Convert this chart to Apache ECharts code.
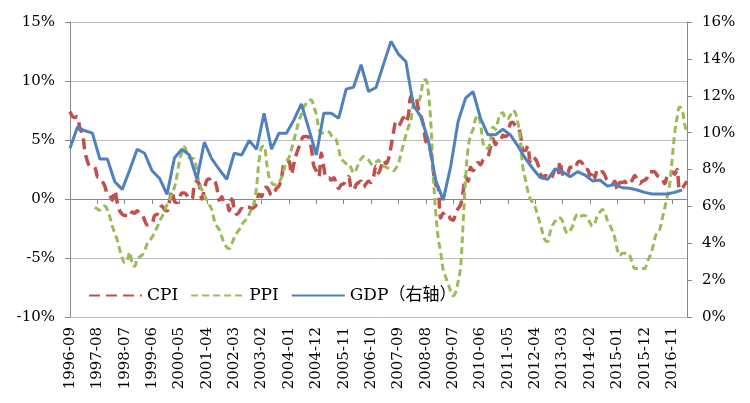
<!DOCTYPE html>
<html><head><meta charset="utf-8">
<script src="https://cdn.jsdelivr.net/npm/echarts@6/dist/echarts.min.js"></script>
<style>html,body{margin:0;padding:0;background:#fff}#c{width:750px;height:403px}</style>
</head><body><div id="c"></div>
<script>
// Monthly categories 1996-09 .. 2017-05
const firstYear = 1996, firstMonth = 9, monthCount = 249;
const categories = [];
for (let i = 0; i < monthCount; i++) {
  const m = firstMonth - 1 + i;
  const y = firstYear + Math.floor(m / 12);
  const mo = (m % 12) + 1;
  categories.push(y + '-' + (mo < 10 ? '0' + mo : mo));
}

// CPI yoy %, monthly from 1996-09
const cpi = [
  7.4, 7.0, 6.9, 7.0,
  5.9, 5.6, 4.0, 3.2, 2.8, 2.8, 2.7, 1.9, 1.8, 1.5, 1.1, 0.4,
  0.3, -0.1, 0.7, -0.3, -1.0, -1.3, -1.4, -1.4, -1.5, -1.1, -1.2, -1.0,
  -1.2, -1.3, -1.8, -2.2, -2.2, -2.1, -1.4, -1.3, -0.8, -0.6, -0.9, -1.0,
  -0.2, 0.7, -0.2, -0.3, 0.1, 0.5, 0.5, 0.3, 0.0, 0.0, 1.3, 1.5,
  1.2, 0.0, 0.8, 1.6, 1.7, 1.4, 1.5, 1.0, -0.1, 0.2, -0.3, -0.3,
  -1.0, 0.0, -0.8, -1.3, -1.1, -0.8, -0.9, -0.7, -0.7, -0.8, -0.7, -0.4,
  0.4, 0.2, 0.9, 1.0, 0.7, 0.3, 0.5, 0.9, 1.1, 1.8, 3.0, 3.2,
  3.2, 2.1, 3.0, 3.8, 4.4, 5.0, 5.3, 5.3, 5.2, 4.3, 2.8, 2.4,
  1.9, 3.9, 2.7, 1.8, 1.8, 1.6, 1.8, 1.3, 0.9, 1.2, 1.3, 1.6,
  1.9, 0.9, 0.8, 1.2, 1.4, 1.5, 1.0, 1.3, 1.5, 1.4, 1.9, 2.8,
  2.2, 2.7, 3.3, 3.0, 3.4, 4.4, 5.6, 6.5, 6.2, 6.5, 6.9, 6.5,
  7.1, 8.7, 8.3, 8.5, 7.7, 7.1, 6.3, 4.9, 4.6, 4.0, 2.4, 1.2,
  1.0, -1.6, -1.2, -1.5, -1.4, -1.7, -1.8, -1.2, -0.8, -0.5, 0.6, 1.9,
  1.5, 2.7, 2.4, 2.8, 3.1, 2.9, 3.3, 3.5, 3.6, 4.4, 5.1, 4.6,
  4.9, 4.9, 5.4, 5.3, 5.5, 6.4, 6.5, 6.2, 6.1, 5.5, 4.2, 4.1,
  4.5, 3.2, 3.6, 3.4, 3.0, 2.2, 1.8, 2.0, 1.9, 1.7, 2.0, 2.5,
  2.0, 3.2, 2.1, 2.4, 2.1, 2.7, 2.7, 2.6, 3.1, 3.2, 3.0, 2.5,
  2.5, 2.0, 2.4, 1.8, 2.5, 2.3, 2.3, 2.0, 1.6, 1.6, 1.4, 1.5,
  0.8, 1.4, 1.4, 1.5, 1.2, 1.4, 1.6, 2.0, 1.6, 1.3, 1.5, 1.6,
  1.8, 2.3, 2.3, 2.3, 2.0, 1.9, 1.8, 1.3, 1.9, 2.1, 2.3, 2.1,
  2.5, 0.8, 0.9, 1.2, 1.5
];

// PPI yoy %, monthly from 1997-07
const ppiFirst = '1997-07';
const ppi = [
  -0.7, -0.85, -0.95, -0.8, -0.6, -0.9,
  -1.5, -2.3, -2.9, -3.5, -4.3, -5.0, -5.4, -5.2, -4.5, -5.5, -5.7, -5.1,
  -4.9, -4.75, -4.4, -3.8, -3.5, -3.25, -2.8, -2.4, -1.9, -1.5, -1.0, -0.5,
  -0.1, 0.5, 1.0, 2.0, 3.2, 4.0, 4.4, 3.9, 3.5, 3.45, 3.4, 2.3,
  1.3, 0.8, 0.3, -0.1, -0.5, -0.9, -1.8, -2.3, -2.6, -3.2, -3.75, -4.1,
  -4.2, -3.8, -3.3, -2.9, -2.6, -2.2, -1.9, -1.7, -1.3, -0.8, -0.3, 1.0,
  3.3, 4.4, 4.5, 3.1, 1.9, 1.4, 1.2, 1.2, 1.4, 1.8, 2.5, 3.2,
  3.5, 4.2, 5.0, 5.8, 6.6, 7.2, 7.8, 8.1, 8.4, 8.4, 7.8, 7.2,
  6.0, 5.6, 5.6, 5.7, 5.7, 5.4, 5.2, 5.0, 4.2, 3.4, 3.2, 3.0,
  3.0, 2.6, 2.2, 2.5, 3.0, 3.4, 3.6, 3.5, 3.3, 3.0, 2.9, 3.1,
  3.3, 3.0, 2.8, 2.7, 2.6, 2.5, 2.4, 2.6, 3.0, 3.8, 4.6, 5.4,
  6.1, 6.6, 8.0, 8.1, 8.2, 8.8, 10.0, 10.1, 9.1, 6.6, 2.0, -1.1,
  -3.3, -4.5, -6.0, -6.6, -7.2, -7.8, -8.2, -7.9, -7.0, -5.8, -2.1, 1.7,
  4.3, 5.4, 5.9, 6.8, 7.1, 6.4, 4.8, 4.3, 4.3, 5.0, 6.1, 5.9,
  6.6, 7.2, 7.3, 6.8, 6.8, 7.1, 7.5, 7.3, 6.5, 5.0, 2.7, 1.7,
  0.7, 0.0, -0.3, -0.7, -1.4, -2.1, -2.9, -3.5, -3.6, -2.8, -2.2, -1.9,
  -1.6, -1.6, -1.9, -2.6, -2.9, -2.7, -2.3, -1.6, -1.3, -1.5, -1.4, -1.4,
  -1.6, -2.0, -2.3, -2.0, -1.4, -1.1, -0.9, -1.2, -1.8, -2.2, -2.7, -3.3,
  -4.3, -4.8, -4.6, -4.6, -4.6, -4.8, -5.4, -5.9, -5.9, -5.9, -5.9, -5.9,
  -5.3, -4.9, -4.3, -3.4, -2.8, -2.6, -1.7, -0.8, 0.1, 1.2, 3.3, 5.5,
  6.9, 7.8, 7.6, 6.4, 5.5
];

// GDP yoy % (right axis), quarterly from 1996-09 (every 3rd month)
const gdpQuarterly = [
  9.15, 10.3, 10.1, 9.97, 8.57, 8.57, 7.34, 6.92, 7.97, 9.10,
  8.88, 7.93, 7.52, 6.65, 8.64, 9.10, 8.79, 7.47, 9.48, 8.57,
  8.0, 7.47, 8.88, 8.79, 9.57, 9.10, 11.05, 9.10, 9.97, 9.97,
  10.69, 11.56, 10.2, 8.79, 11.05, 11.05, 10.78, 12.36, 12.47, 13.68,
  12.23, 12.45, 13.7, 14.95, 14.26, 13.86, 11.5, 10.87, 9.6, 7.43,
  6.34, 8.15, 10.6, 11.87, 12.23, 10.78, 9.88, 9.88, 10.18, 9.88,
  9.28, 8.61, 8.05, 7.57, 7.47, 8.03, 7.88, 7.61, 7.88, 7.70,
  7.38, 7.43, 7.10, 7.19, 7.01, 6.98, 6.89, 6.76, 6.67, 6.67,
  6.67, 6.76, 6.89
];

const seriesNames = ['CPI', 'PPI', 'GDP（右轴）'];
const leftTicks = { min: -10, max: 15, step: 5 };
const rightTicks = { min: 0, max: 16, step: 2 };

// build library-ready arrays
const ppiOffset = categories.indexOf(ppiFirst);
const ppiSeries = categories.map((c, i) => (i >= ppiOffset && i - ppiOffset < ppi.length) ? ppi[i - ppiOffset] : null);
const gdpSeries = categories.map((c, i) => (i % 3 === 0 && gdpQuarterly[i / 3] !== undefined) ? gdpQuarterly[i / 3] : null);

const FONT = 'DejaVu Serif';
const AXIS = '#868686';
const chart = echarts.init(document.getElementById('c'), null, { renderer: 'canvas' });
chart.setOption({
  animation: false,
  backgroundColor: '#fff',
  grid: { left: 70, right: 63, top: 22, bottom: 86, containLabel: false },
  legend: {
    data: seriesNames, left: 88, top: 287, padding: 0, itemWidth: 53, itemHeight: 18, itemGap: 12,
    itemStyle: { opacity: 0, color: 'rgba(0,0,0,0)', borderColor: 'rgba(0,0,0,0)', borderWidth: 0 },
    textStyle: { fontFamily: FONT + ', Noto Sans CJK SC', fontSize: 17, color: '#000' }
  },
  xAxis: [
    {
      type: 'category', data: categories, boundaryGap: false, position: 'bottom',
      axisLine: { show: false, onZero: false }, axisTick: { show: false }, splitLine: { show: false },
      axisLabel: { interval: 10, rotate: 90, margin: 10, fontFamily: FONT, fontSize: 15, color: '#000' }
    },
    {
      type: 'category', data: categories, boundaryGap: false, position: 'bottom',
      axisLine: { show: true, onZero: true, onZeroAxisIndex: 0, lineStyle: { color: AXIS, width: 1 } },
      axisTick: { show: true, interval: 10, inside: false, length: 5, lineStyle: { color: AXIS, width: 1 } },
      axisLabel: { show: false }, splitLine: { show: false }
    }
  ],
  yAxis: [
    {
      type: 'value', position: 'left', min: leftTicks.min, max: leftTicks.max, interval: leftTicks.step,
      axisLine: { show: true, lineStyle: { color: AXIS } },
      axisTick: { show: true, length: 5, lineStyle: { color: AXIS } },
      axisLabel: { formatter: '{value}%', margin: 15, fontFamily: FONT, fontSize: 15, color: '#000' },
      splitLine: { show: true, lineStyle: { color: '#BFBFBF', width: 1 } }
    },
    {
      type: 'value', position: 'right', min: rightTicks.min, max: rightTicks.max, interval: rightTicks.step,
      axisLine: { show: true, lineStyle: { color: AXIS } },
      axisTick: { show: true, length: 5, lineStyle: { color: AXIS } },
      axisLabel: { formatter: '{value}%', margin: 15, fontFamily: FONT, fontSize: 15, color: '#000' },
      splitLine: { show: false }
    }
  ],
  series: [
    {
      name: seriesNames[0], type: 'line', data: cpi, xAxisIndex: 0, yAxisIndex: 0,
      symbol: 'none', smooth: 0.35,
      lineStyle: { color: '#C0504D', width: 3.5, type: [11, 6] }, itemStyle: { color: '#C0504D' }
    },
    {
      name: seriesNames[1], type: 'line', data: ppiSeries, xAxisIndex: 0, yAxisIndex: 0,
      symbol: 'none', smooth: 0.35,
      lineStyle: { color: '#9BBB59', width: 3, type: [7, 4] }, itemStyle: { color: '#9BBB59' }
    },
    {
      name: seriesNames[2], type: 'line', data: gdpSeries, xAxisIndex: 0, yAxisIndex: 1,
      symbol: 'none', connectNulls: true, smooth: false,
      lineStyle: { color: '#4F81BD', width: 3 }, itemStyle: { color: '#4F81BD' }
    }
  ]
});
</script>
</body></html>
